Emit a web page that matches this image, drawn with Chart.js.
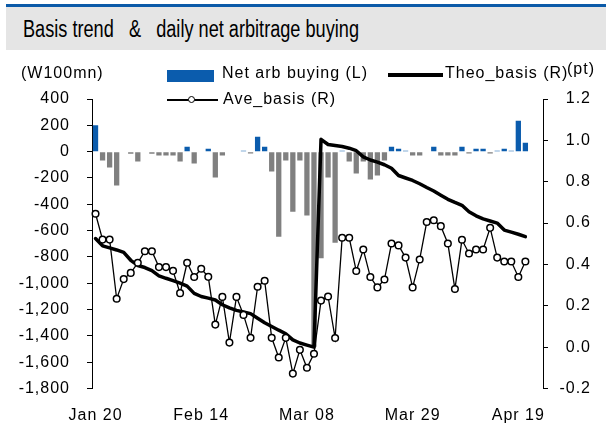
<!DOCTYPE html>
<html><head><meta charset="utf-8">
<script src="https://cdn.jsdelivr.net/npm/chart.js@4.4.1/dist/chart.umd.min.js"></script>
<style>
html,body{margin:0;padding:0;background:#fff;}
#wrap{position:relative;width:606px;height:446px;overflow:hidden;font-family:"Liberation Sans",Arial,sans-serif;color:#000;}
#topline{position:absolute;left:6px;top:4px;width:600px;height:3px;background:#0b5aa8;}
#band{position:absolute;left:6px;top:7px;width:600px;height:43px;background:#e5e5e5;}
#title{position:absolute;left:23px;top:18px;font-family:"Liberation Sans Narrow","Arial Narrow","Liberation Sans",sans-serif;font-size:23px;line-height:23px;white-space:pre;transform-origin:0 0;}
.lg{position:absolute;font-size:16px;line-height:18px;letter-spacing:1px;white-space:pre;z-index:2;}
.sw{position:absolute;z-index:2;}
canvas{position:absolute;left:0;top:0;z-index:1;}
</style>
</head><body>
<div id="wrap">
  <div id="topline"></div>
  <div id="band"></div>
  <div id="title">Basis trend   &amp;   daily net arbitrage buying</div>
  <div class="lg" style="left:21px;top:64px;">(W100mn)</div>
  <div class="sw" style="left:167px;top:70px;width:47px;height:12px;background:#0b5cad;"></div>
  <div class="lg" style="left:222px;top:64px;">Net arb buying (L)</div>
  <div class="sw" style="left:388px;top:73px;width:55px;height:4px;background:#000;"></div>
  <div class="lg" style="left:445px;top:64px;">Theo_basis (R)</div>
  <div class="lg" style="left:567px;top:60px;">(pt)</div>
  <div class="sw" style="left:167px;top:99px;width:51px;height:1.5px;background:#000;"></div>
  <div class="sw" style="left:187.7px;top:96px;width:5px;height:5px;border:1.5px solid #000;border-radius:50%;background:#fff;"></div>
  <div class="lg" style="left:223px;top:90px;">Ave_basis (R)</div>
  <canvas id="c" width="606" height="446"></canvas>
</div>
<script>
// ---- data ----
const tickLabels = ['Jan 20', 'Feb 14', 'Mar 08', 'Mar 29', 'Apr 19'];
const tickEvery = 15;
const categoryCount = 64;

const netArbBuying = [200,-68,-121,-258,0,-17,-75,0,-17,-30,
  -30,-30,-75,37,-90,0,21,-197,-30,0,
  0,6,-14,113,37,-151,-646,-68,-456,-68,
  -486,-1483,-810,-197,-692,6,-75,-167,-75,-212,
  -182,-68,37,21,6,-30,-30,0,37,-30,
  -30,-30,37,-14,21,21,-14,6,21,6,
  234,67];

const theoBasis = [0.525,0.49,0.48,0.47,0.458,0.42,0.395,0.385,0.37,0.345,
  0.333,0.322,0.31,0.295,0.26,0.245,0.237,0.228,0.205,0.19,
  0.178,0.17,0.162,0.14,0.118,0.1,0.082,0.065,0.035,0.02,
  0.01,0.0,1.005,0.98,0.975,0.97,0.962,0.95,0.92,0.905,
  0.895,0.882,0.865,0.83,0.818,0.806,0.79,0.772,0.755,0.735,
  0.715,0.7,0.686,0.655,0.635,0.62,0.61,0.6,0.566,0.556,
  0.546,0.534];

const aveBasis = [0.645,0.52,0.52,0.234,0.329,0.359,0.408,0.464,0.464,0.387,
  0.387,0.369,0.261,0.408,0.339,0.379,0.34,0.109,0.243,0.022,
  0.243,0.156,0.045,0.292,0.321,0.045,-0.05,0.045,-0.128,-0.013,
  -0.1,-0.032,0.225,0.245,0.044,0.529,0.529,0.368,0.472,0.339,
  0.289,0.327,0.501,0.492,0.433,0.289,0.424,0.605,0.614,0.585,
  0.501,0.281,0.519,0.453,0.472,0.472,0.577,0.433,0.414,0.414,
  0.339,0.414];

// ---- build ----
const labels = Array.from({length: categoryCount}, (_, i) =>
  (i % tickEvery === 0 && tickLabels[i / tickEvery]) ? tickLabels[i / tickEvery] : '');

// fit title width
(function(){
  const t = document.getElementById('title');
  const w = t.getBoundingClientRect().width;
  t.style.transform = 'scaleX(' + (336 / w) + ')';
})();

const spacingPlugin = {
  id: 'spacing',
  beforeUpdate(c){ c.ctx.letterSpacing = '1px'; },
  beforeDraw(c){ c.ctx.letterSpacing = '1px'; }
};

Chart.defaults.font.family = "'Liberation Sans', Arial, sans-serif";
Chart.defaults.font.size = 16;
Chart.defaults.color = '#000';

new Chart(document.getElementById('c'), {
  type: 'bar',
  data: {
    labels: labels,
    datasets: [
      {
        type: 'line', label: 'Ave_basis (R)', data: aveBasis, yAxisID: 'y1', order: 0,
        borderColor: '#000', borderWidth: 1.3, tension: 0,
        pointRadius: 3.3, pointBorderWidth: 1.5, pointBackgroundColor: '#fff', pointBorderColor: '#000'
      },
      {
        type: 'line', label: 'Theo_basis (R)', data: theoBasis, yAxisID: 'y1', order: 1,
        borderColor: '#000', borderWidth: 3.5, tension: 0, pointRadius: 0,
        borderJoinStyle: 'round', borderCapStyle: 'round'
      },
      {
        type: 'bar', label: 'Net arb buying (L)', data: netArbBuying, yAxisID: 'y', order: 2,
        backgroundColor: netArbBuying.map(v => v >= 0 ? '#0b5cad' : '#808080'),
        borderWidth: 0, categoryPercentage: 1.0, barPercentage: 0.75
      }
    ]
  },
  options: {
    responsive: false,
    devicePixelRatio: 1,
    animation: false,
    layout: { padding: { left: 19, right: 15, top: 99, bottom: 17.5 } },
    plugins: { legend: { display: false }, tooltip: { enabled: false }, title: { display: false } },
    scales: {
      x: {
        type: 'category', offset: true,
        grid: { display: false, drawTicks: false },
        border: { display: false },
        ticks: { autoSkip: false, maxRotation: 0, minRotation: 0, padding: 17, color: '#000' },
        afterFit(s){ s.height = 40; }
      },
      y: {
        position: 'left', min: -1800, max: 400,
        ticks: { stepSize: 200, padding: 17, color: '#000',
          callback: v => Number(v).toLocaleString('en-US') },
        grid: { drawOnChartArea: false, drawTicks: true, tickLength: 5, color: '#000', tickColor: '#000' },
        border: { display: true, color: '#000', width: 1 },
        afterFit(s){ s.width = 73; }
      },
      y1: {
        position: 'right', min: -0.2, max: 1.2,
        ticks: { stepSize: 0.2, padding: 10, crossAlign: 'far', color: '#000',
          callback: v => Math.abs(v) < 1e-9 ? '0.0' : Number(v).toFixed(1) },
        grid: { drawOnChartArea: false, drawTicks: true, tickLength: 5, color: '#000', tickColor: '#000' },
        border: { display: true, color: '#000', width: 1 },
        afterFit(s){ s.width = 48; }
      }
    }
  },
  plugins: [spacingPlugin]
});
</script>
</body></html>
